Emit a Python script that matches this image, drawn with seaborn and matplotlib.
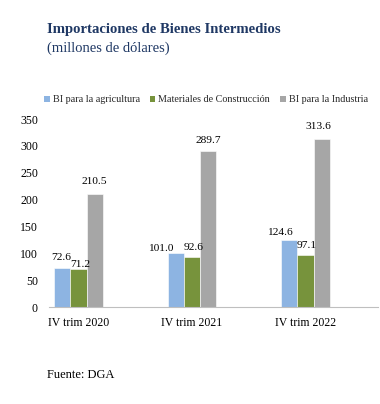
import matplotlib
matplotlib.use("Agg")
import matplotlib.pyplot as plt
import seaborn as sns
import pandas as pd
from matplotlib.patches import Patch

categories = ["IV trim 2020", "IV trim 2021", "IV trim 2022"]
series = ["BI para la agricultura", "Materiales de Construcción", "BI para la Industria"]
agricultura = [72.6, 101.0, 124.6]
construccion = [71.2, 92.6, 97.1]
industria = [210.5, 289.7, 313.6]
colors = ["#8DB4E2", "#77933C", "#A6A6A6"]

rows = []
for s, vals in zip(series, [agricultura, construccion, industria]):
    for c, v in zip(categories, vals):
        rows.append({"cat": c, "serie": s, "val": v})
df = pd.DataFrame(rows)

sns.set_theme(style="white")
plt.rcParams["font.family"] = ["Liberation Serif", "DejaVu Serif"]

fig = plt.figure(figsize=(3.8, 4.04), dpi=100)
ax = fig.add_axes([49/380, 1-307/404, (378-49)/380, (307-119)/404])

sns.barplot(data=df, x="cat", y="val", hue="serie", hue_order=series,
            order=categories, palette=colors, saturation=1, width=0.43, gap=0,
            edgecolor="white", linewidth=0.4, legend=False, ax=ax, errorbar=None)

ax.set_ylim(0, 350)
ax.set_xlim(-0.26, 2.64)
ax.set_yticks(range(0, 351, 50))
ax.set_xlabel("")
ax.set_ylabel("")
for sp in ["top", "right", "left"]:
    ax.spines[sp].set_visible(False)
ax.spines["bottom"].set_color("#BFBFBF")
ax.spines["bottom"].set_linewidth(0.8)
ax.tick_params(axis="y", length=0, labelsize=8.5, colors="#000000", pad=8)
ax.tick_params(axis="x", length=0, labelsize=8.5, colors="#000000", pad=7)

# label offsets (px) per series per category
dx = [[-1, -15, -9], [2, 2, 1], [0, 0, -3]]
dy = [[11, 4, 8], [4, 10, 9], [12, 11, 12]]
for i, cont in enumerate(ax.containers):
    for j, bar in enumerate(cont):
        h = bar.get_height()
        x = bar.get_x() + bar.get_width()/2
        ax.annotate(f"{h:.1f}", (x, h), xytext=(dx[i][j]*0.72, dy[i][j]*0.72),
                    textcoords="offset points", ha="center", va="center",
                    fontsize=8.2, color="#000000")

handles = [Patch(facecolor=c, edgecolor="none") for c in colors]
fig.legend(handles, series, loc="center left", bbox_to_anchor=(44/380, 1-100/404),
           ncol=3, frameon=False, fontsize=7.3, handlelength=0.55, handleheight=0.55,
           handletextpad=0.3, columnspacing=1.0, borderaxespad=0, borderpad=0)

fig.text(47/380, 1-30/404, "Importaciones de Bienes Intermedios", fontsize=10.6,
         fontweight="bold", color="#1F3864", ha="left", va="center")
fig.text(47/380, 1-48/404, "(millones de dólares)", fontsize=10.5,
         color="#1F3864", ha="left", va="center")
fig.text(47/380, 1-375/404, "Fuente: DGA", fontsize=9, color="#000000",
         ha="left", va="center")

fig.savefig("out.png", dpi=100, facecolor="white")
